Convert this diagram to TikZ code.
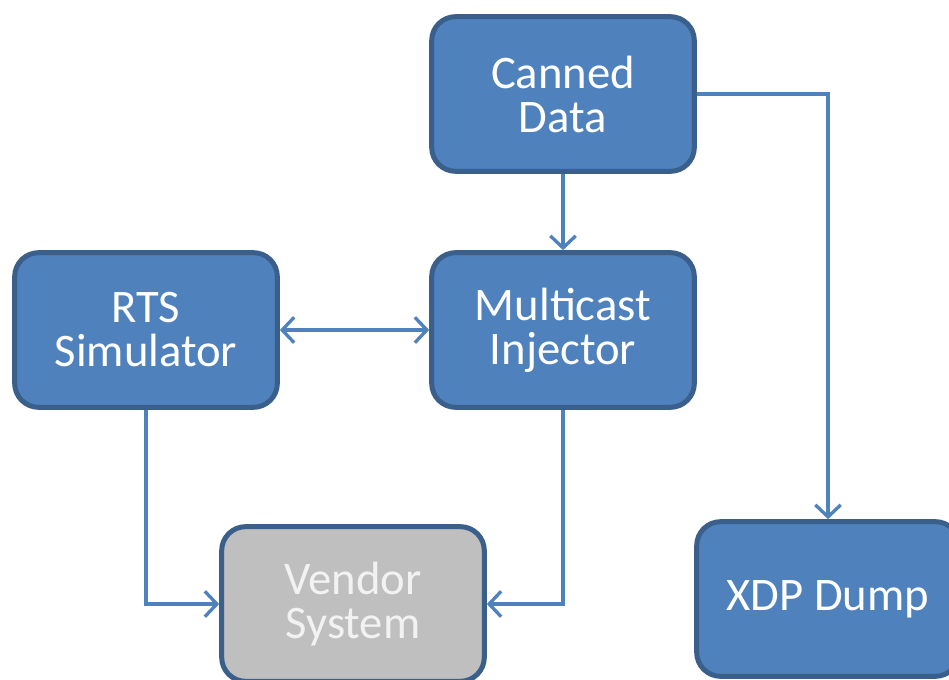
\documentclass[tikz,border=0pt]{standalone}
\usepackage{fontspec}
\setmainfont{Carlito}
\usetikzlibrary{arrows.meta}

\definecolor{boxfill}{HTML}{4F81BD}
\definecolor{boxline}{HTML}{3A5F8B}
\definecolor{vendorfill}{HTML}{BFBFBF}
\definecolor{vendortext}{HTML}{F2F2F2}

\begin{document}
\begin{tikzpicture}[
	x=0.75pt, y=-0.75pt,
	block/.style={
		draw=boxline,
		fill=boxfill,
		line width=3.75pt,
		rounded corners=18pt,
		minimum width=197pt,
		minimum height=116pt,
		align=center,
		text=white,
		font=\fontsize{35}{33}\selectfont
	},
	link/.style={
		draw=boxfill,
		line width=2.5pt,
		-{Straight Barb[length=9pt,width=19pt]}
	}
]
	\useasboundingbox (0,0) rectangle (949,680);

	\node[block] (canned) at (563,94) {Canned\\Data};
	\node[block] (rts) at (146,330) {RTS\\Simulator};
	\node[block] (injector) at (563,330) {Multicast\\Injector};
	\node[block, fill=vendorfill, text=vendortext] (vendor) at (353,604) {Vendor\\System};
	\node[block] (xdp) at (828,599) {XDP Dump};

	\draw[link] (canned) -- (injector);
	\draw[link] (canned.east) -| (xdp.north);
	\draw[link, {Straight Barb[length=9pt,width=19pt]}-{Straight Barb[length=9pt,width=19pt]}] (rts) -- (injector);
	\draw[link] (rts.south) |- (vendor.west);
	\draw[link] (injector.south) |- (vendor.east);
\end{tikzpicture}
\end{document}
